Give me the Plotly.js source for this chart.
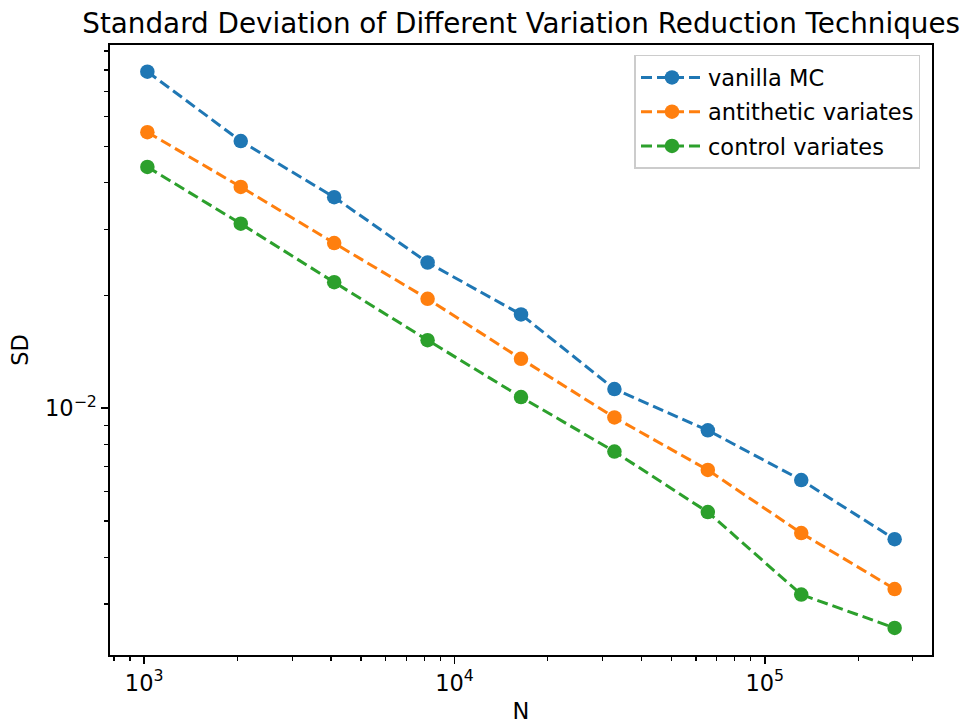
<!DOCTYPE html>
<html>
<head>
<meta charset="utf-8">
<script src="https://cdn.plot.ly/plotly-3.0.1.min.js"></script>
<style>html,body{margin:0;padding:0;background:#fff;}#chart{width:966px;height:728px;}</style>
</head>
<body>
<div id="chart"></div>
<script>
const N = [1024, 2048, 4096, 8192, 16384, 32768, 65536, 131072, 262144];
const vanillaMC = [0.0792, 0.0517, 0.0366, 0.0245, 0.0178, 0.01125, 0.00873, 0.00643, 0.00447];
const antithetic = [0.0546, 0.0390, 0.0276, 0.0196, 0.01355, 0.00945, 0.00684, 0.00464, 0.00329];
const control = [0.0441, 0.0311, 0.0217, 0.0152, 0.01071, 0.00766, 0.00528, 0.00318, 0.00259];
const seriesNames = ['vanilla MC', 'antithetic variates', 'control variates'];
const seriesColors = ['#1f77b4', '#ff7f0e', '#2ca02c'];
const xTickVals = [1e3, 1e4, 1e5];
const xTickText = ['10<sup>3</sup>', '10<sup>4</sup>', '10<sup>5</sup>'];
const yTickVals = [1e-2];
const yTickText = ['10<sup>−2</sup>'];

function minorLog(lo, hi) {
  const out = [];
  for (let e = lo; e <= hi; e++) for (let m = 2; m <= 9; m++) out.push(m * Math.pow(10, e));
  return out;
}

const allY = [vanillaMC, antithetic, control];
const traces = allY.map((ys, i) => ({
  x: N, y: ys, name: seriesNames[i], type: 'scatter', mode: 'lines+markers',
  legendgroup: 'g' + i,
  line: {color: seriesColors[i], width: 3, dash: '11px,5px'},
  marker: {color: seriesColors[i], size: 14.5}
}));

const font = {family: 'DejaVu Sans, sans-serif', size: 22.5, color: '#000'};
const layout = {
  width: 966, height: 728,
  margin: {l: 110, r: 34, t: 45, b: 73},
  paper_bgcolor: '#fff', plot_bgcolor: '#fff',
  font: font,
  showlegend: true,
  title: {text: 'Standard Deviation of Different Variation Reduction Techniques',
          font: {family: 'DejaVu Sans, sans-serif', size: 27.8, color: '#000'},
          x: 0.5395, xanchor: 'center', y: 0.968, yanchor: 'middle'},
  xaxis: {
    type: 'log', range: [2.8899, 5.5389],
    tickmode: 'array', tickvals: xTickVals, ticktext: xTickText,
    ticks: 'outside', ticklen: 7, tickwidth: 1.6, tickcolor: '#000',
    showline: true, linecolor: '#000', linewidth: 1.6, mirror: true,
    showgrid: false, zeroline: false,
    tickfont: font,
    minor: {tickmode: 'array', tickvals: minorLog(2, 5), ticks: 'outside', ticklen: 4, tickwidth: 1.2, tickcolor: '#000', showgrid: false},
    title: {text: 'N', font: font, standoff: 8}
  },
  yaxis: {
    type: 'log', range: [-2.659, -1.030],
    tickmode: 'array', tickvals: yTickVals, ticktext: yTickText,
    ticks: 'outside', ticklen: 7, tickwidth: 1.6, tickcolor: '#000',
    showline: true, linecolor: '#000', linewidth: 1.6, mirror: true,
    showgrid: false, zeroline: false,
    tickfont: font,
    minor: {tickmode: 'array', tickvals: minorLog(-3, -2), ticks: 'outside', ticklen: 4, tickwidth: 1.2, tickcolor: '#000', showgrid: false},
    title: {text: 'SD', font: font, standoff: 10}
  },
  legend: {
    x: 0.986, xanchor: 'right', y: 0.984, yanchor: 'top',
    traceorder: 'grouped',
    bgcolor: 'rgba(255,255,255,0.8)', bordercolor: '#cccccc', borderwidth: 1.5,
    font: font, tracegroupgap: 2, itemwidth: 62
  }
};

Plotly.newPlot('chart', traces, layout, {displayModeBar: false, staticPlot: true});
</script>
</body>
</html>
